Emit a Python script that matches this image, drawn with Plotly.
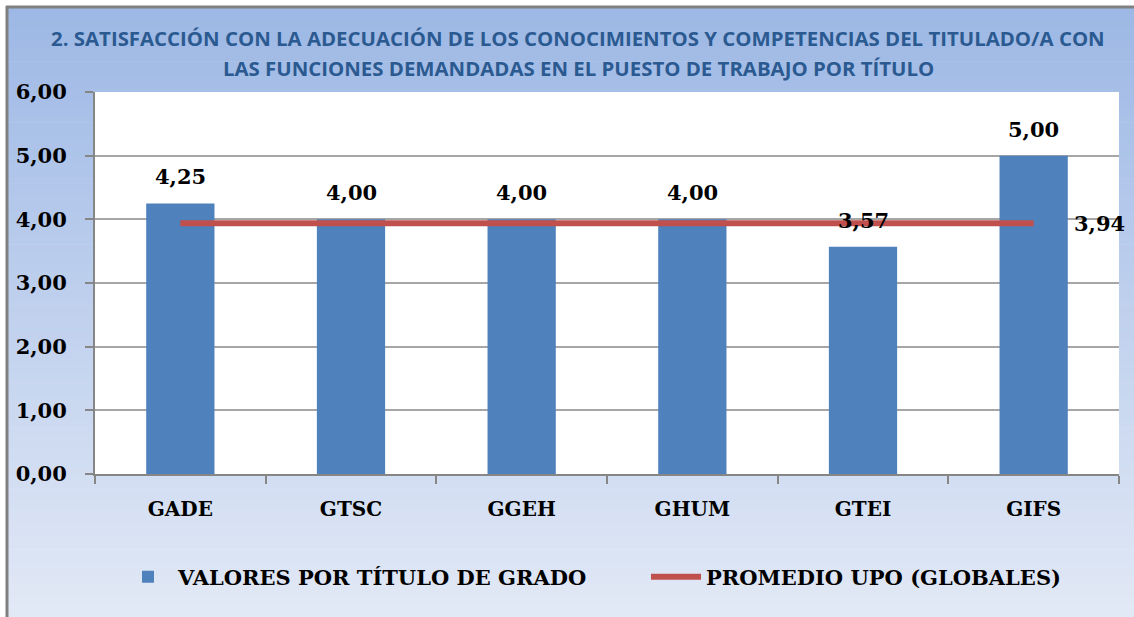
import plotly.graph_objects as go

# ---- data ----
categorias = ["GADE", "GTSC", "GGEH", "GHUM", "GTEI", "GIFS"]
valores_titulo = [4.25, 4.00, 4.00, 4.00, 3.57, 5.00]
promedio_upo = [3.94, 3.94, 3.94, 3.94, 3.94, 3.94]
y_ticks = [0, 1, 2, 3, 4, 5, 6]
titulo_l1 = "2. SATISFACCIÓN CON LA ADECUACIÓN DE LOS CONOCIMIENTOS Y COMPETENCIAS DEL TITULADO/A CON"
titulo_l2 = "LAS FUNCIONES DEMANDADAS EN EL PUESTO DE TRABAJO POR TÍTULO"
nombre_barras = "VALORES POR TÍTULO DE GRADO"
nombre_linea = "PROMEDIO UPO (GLOBALES)"

# ---- layout geometry (pixels) ----
W, H = 1134, 617
L, R, T, B = 95, 1119, 92, 474
PW, PH = R - L, B - T


def px(x):
    return (x - L) / PW


def py(y):
    return (B - y) / PH


def fmt(v):
    return f"{v:.2f}".replace(".", ",")


SERIF = "DejaVu Serif"
LABEL_FONT = dict(family=SERIF, size=21, color="black", weight="bold")

fig = go.Figure()

fig.add_trace(go.Bar(
    x=categorias, y=valores_titulo, name=nombre_barras,
    marker=dict(color="#4f81bd", line=dict(width=0)),
    hoverinfo="skip", legend="legend",
))

fig.add_trace(go.Scatter(
    x=categorias, y=promedio_upo, name=nombre_linea, mode="lines",
    line=dict(color="#c0504d", width=6),
    cliponaxis=False, hoverinfo="skip", legend="legend2",
))

# bar labels
for c, v in zip(categorias, valores_titulo):
    fig.add_annotation(
        x=c, y=v, text=fmt(v), showarrow=False, yanchor="bottom", yshift=12,
        font=LABEL_FONT,
    )
# average label (last point only)
fig.add_annotation(
    x=categorias[-1], y=promedio_upo[-1], text=fmt(promedio_upo[-1]),
    showarrow=False, xanchor="left", yanchor="middle", xshift=38,
    font=LABEL_FONT,
)

# background gradient (paper shapes)
shapes = []
top_c = (157, 184, 229)
bot_c = (226, 233, 246)
y_start, y_end = 7, H
n = 90
for i in range(n):
    ya = y_start + (y_end - y_start) * i / n
    yb = y_start + (y_end - y_start) * (i + 1) / n + 0.6
    t = (i + 0.5) / n
    col = tuple(round(top_c[k] + (bot_c[k] - top_c[k]) * t) for k in range(3))
    shapes.append(dict(
        type="rect", xref="paper", yref="paper", layer="below",
        x0=px(7), x1=px(W + 2), y0=py(yb), y1=py(ya),
        fillcolor=f"rgb{col}", line=dict(width=0),
    ))
# white plot area
shapes.append(dict(type="rect", xref="paper", yref="paper", layer="below",
                   x0=0, x1=1, y0=0, y1=1, fillcolor="white", line=dict(width=0)))
# outer border (left and top)
shapes.append(dict(type="line", xref="paper", yref="paper", layer="above",
                   x0=px(7), x1=px(7), y0=py(H + 2), y1=py(6),
                   line=dict(color="#808080", width=3)))
shapes.append(dict(type="line", xref="paper", yref="paper", layer="above",
                   x0=px(6), x1=px(W + 2), y0=py(7), y1=py(7),
                   line=dict(color="#808080", width=3)))

# title
for txt, yc in [(titulo_l1, 38), (titulo_l2, 68)]:
    fig.add_annotation(
        xref="paper", yref="paper", x=px(578), y=py(yc), text=txt,
        showarrow=False, xanchor="center", yanchor="middle",
        font=dict(family="Open Sans", size=20.4, color="#2b5a91", weight="bold"),
    )

legend_common = dict(
    orientation="h", y=py(577), yanchor="middle", xanchor="left",
    font=dict(family=SERIF, size=21, color="black", weight="bold"),
    bgcolor="rgba(0,0,0,0)", itemwidth=50,
)

fig.update_layout(
    width=W, height=H,
    margin=dict(l=L, r=W - R, t=T, b=H - B, pad=0, autoexpand=False),
    paper_bgcolor="white",
    plot_bgcolor="white",
    separators=",.",
    bargap=0.6,
    shapes=shapes,
    showlegend=True,
    legend=dict(x=px(118), **legend_common),
    legend2=dict(x=px(646), **legend_common),
    xaxis=dict(
        type="category", range=[-0.5, len(categorias) - 0.5],
        tickson="boundaries", ticks="outside", ticklen=8,
        tickwidth=2, tickcolor="#868686", showline=True, linecolor="#868686",
        linewidth=2, showgrid=False, ticklabelstandoff=16,
        tickfont=dict(family=SERIF, size=20, color="black", weight="bold"),
    ),
    yaxis=dict(
        range=[0, 6], tickvals=y_ticks, tickformat=".2f", ticks="outside",
        ticklen=8, tickwidth=2, tickcolor="#868686", showline=True,
        linecolor="#868686", linewidth=2, showgrid=True, gridcolor="#a6a6a6",
        gridwidth=2, zeroline=False, ticklabelstandoff=14,
        tickfont=dict(family=SERIF, size=21, color="black", weight="bold"),
    ),
)

fig.write_html(
    "out.html",
    config={"displayModeBar": False},
    post_script="document.body.style.margin='0';document.body.style.overflow='hidden';",
)
